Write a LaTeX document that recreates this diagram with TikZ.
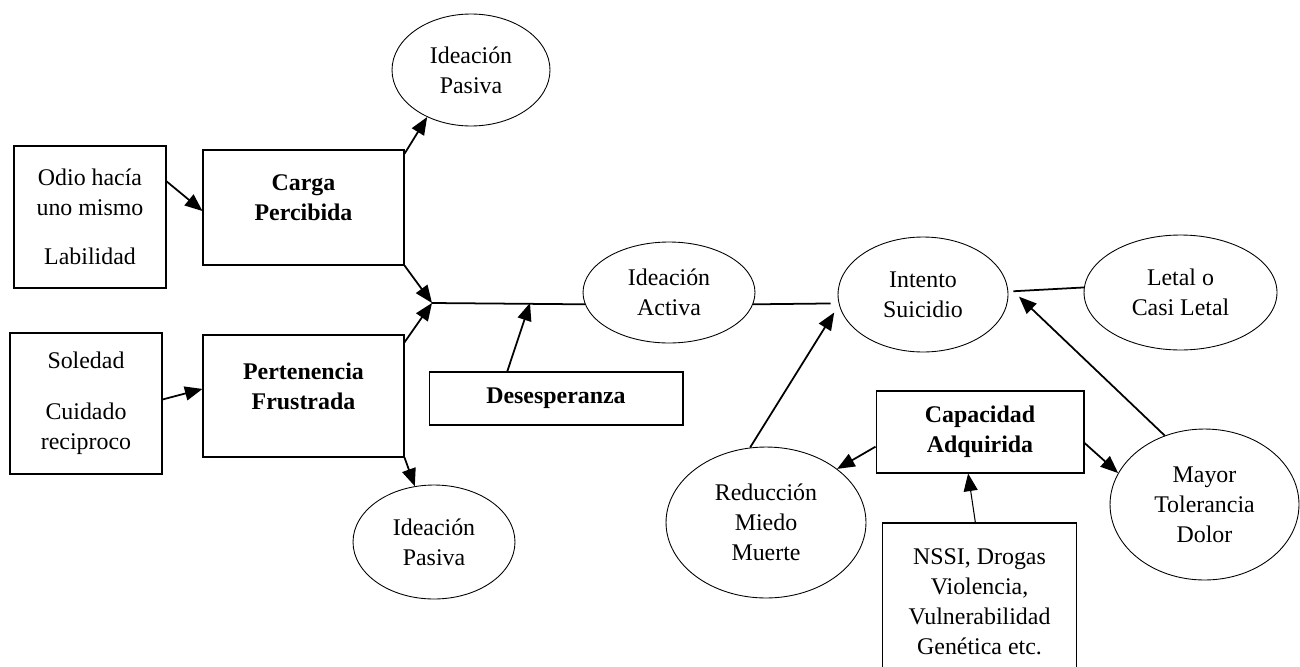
\documentclass[tikz,border=0pt]{standalone}
\usepackage{fontspec}
\setmainfont{Liberation Serif}
\usetikzlibrary{arrows,arrows.meta,shapes.geometric,positioning}

\begin{document}
\begin{tikzpicture}[x=0.02cm,y=-0.02cm]
\tikzstyle{caja}=[rectangle,draw,line width=0.6pt,align=center,inner sep=0pt,font=\fontsize{13.6}{17}\selectfont]
\tikzstyle{negrita}=[caja,font=\fontsize{13.6}{17}\selectfont\bfseries]
\tikzstyle{elipse}=[ellipse,draw,line width=0.5pt,align=center,inner sep=0pt,font=\fontsize{13.6}{17}\selectfont]
\tikzstyle{flecha}=[-{Triangle[length=10pt,width=8pt]},line width=1pt]
\tikzstyle{linea}=[line width=1pt]
\clip (0,0) rectangle (1300,666);
\node[caja,minimum width=3.04cm,minimum height=2.84cm] (odio) at (90,217) {Odio hacía\\uno mismo\\[11pt]Labilidad};
\node[caja,minimum width=3.04cm,minimum height=2.82cm] (soledad) at (86,403.5) {Soledad\\[12pt]Cuidado\\reciproco};
\node[negrita,minimum width=4.02cm,minimum height=2.3cm] (carga) at (303.5,207.5) {Carga\\Percibida\\[-6pt]\mbox{}};
\node[negrita,minimum width=4.02cm,minimum height=2.44cm] (pertenencia) at (303.5,396) {Pertenencia\\Frustrada\\[-6pt]\mbox{}};
\node[elipse,minimum width=3.16cm,minimum height=2.24cm] (pasivaA) at (471,70) {Ideación\\Pasiva};
\node[elipse,minimum width=3.24cm,minimum height=2.28cm] (pasivaB) at (434,542) {Ideación\\Pasiva};
\node[negrita,minimum width=5.08cm,minimum height=1.06cm] (desesperanza) at (556,398.5) {Desesperanza};
\node[elipse,minimum width=3.44cm,minimum height=2.02cm] (activa) at (669,292.5) {Ideación\\Activa};
\node[elipse,minimum width=3.4cm,minimum height=2.3cm] (intento) at (923,294.5) {Intento\\Suicidio};
\node[elipse,minimum width=3.86cm,minimum height=2.3cm] (letal) at (1180.5,292.5) {Letal o\\Casi Letal};
\node[negrita,minimum width=4.16cm,minimum height=1.64cm] (capacidad) at (980,432) {Capacidad\\Adquirida};
\node[caja,minimum width=3.88cm,minimum height=3.14cm] (nssi) at (979.5,601.5) {NSSI, Drogas\\Violencia,\\Vulnerabilidad\\Genética etc.};
\node[elipse,minimum width=4cm,minimum height=3.02cm] (reduccion) at (766,522.5) {Reducción\\Miedo\\Muerte};
\node[elipse,minimum width=3.78cm,minimum height=3.02cm] (mayor) at (1204.5,504.5) {Mayor\\Tolerancia\\Dolor};
\coordinate (J) at (432,303);
\coordinate (hope) at (530,303);
\draw[flecha] (odio.25) -- (carga.182);
\draw[flecha] (soledad.3) -- (pertenencia.176);
\draw[flecha] (carga.28) -- (pasivaA.227);
\draw[flecha] (pertenencia.south east) -- (pasivaB.109);
\draw[flecha] (carga.south east) -- (J);
\draw[flecha] (pertenencia.28) -- (J);
\draw[linea] (J) -- (activa.188);
\draw[flecha] (desesperanza.151) -- (hope);
\draw[linea,shorten >=0.16cm] (activa.-8) -- (intento.186);
\draw[linea,shorten >=0.1cm] (letal.177) -- (intento.2);
\draw[flecha,shorten >=0.32cm] (mayor.120) -- (intento.6);
\draw[flecha,shorten >=0.18cm] (reduccion.102) -- (intento.187);
\draw[flecha] (capacidad.188) -- (reduccion.37);
\draw[flecha] (capacidad.-6) -- (mayor.160);
\draw[flecha,line width=0.6pt] (nssi.93) -- (capacidad.-106);
\end{tikzpicture}
\end{document}
